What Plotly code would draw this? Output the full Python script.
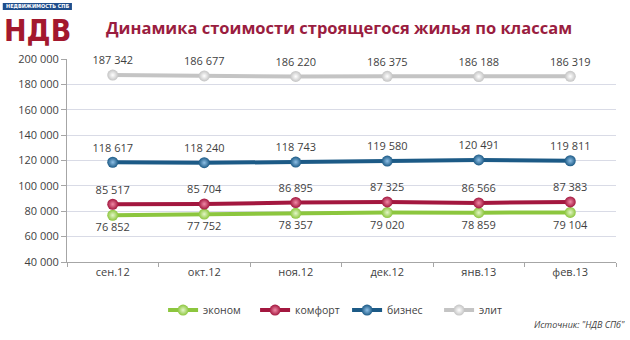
import plotly.graph_objects as go

# Price per square metre of housing under construction, by class (RUB)
months = ["сен.12", "окт.12", "ноя.12", "дек.12", "янв.13", "фев.13"]

econom = [76852, 77752, 78357, 79020, 78859, 79104]
comfort = [85517, 85704, 86895, 87325, 86566, 87383]
business = [118617, 118240, 118743, 119580, 120491, 119811]
elite = [187342, 186677, 186220, 186375, 186188, 186319]

series_names = ["эконом", "комфорт", "бизнес", "элит"]
y_ticks = [40000, 60000, 80000, 100000, 120000, 140000, 160000, 180000, 200000]

styles = [
    # (values, line colour, highlight colour, label position)
    (econom, "#8cc63e", "#e4f6c8", "bottom center"),
    (comfort, "#a3173f", "#f08aa6", "top center"),
    (business, "#1c5a86", "#8fc0e6", "top center"),
    (elite, "#c4c4c4", "#ffffff", "top center"),
]

FONT = "Open Sans"
TEXT_COLOR = "#3f3f3f"

fig = go.Figure()
for name, (vals, col, hi, pos) in zip(series_names, styles):
    fig.add_trace(go.Scatter(
        x=months, y=vals, name=name,
        mode="lines+markers+text",
        line=dict(color=col, width=4),
        marker=dict(size=11, color=col,
                    gradient=dict(type="radial", color=hi),
                    line=dict(width=0)),
        texttemplate="%{y:,d}",
        textposition=pos,
        textfont=dict(family=FONT, size=11, color=TEXT_COLOR),
        cliponaxis=False,
    ))

fig.update_layout(
    width=630, height=340,
    margin=dict(l=67, r=14, t=59, b=78),
    paper_bgcolor="white", plot_bgcolor="white",
    separators=", ",
    showlegend=True,
    legend=dict(
        orientation="h", x=0.175, y=-0.237, xanchor="left", yanchor="middle",
        font=dict(family=FONT, size=10.5, color=TEXT_COLOR),
        entrywidth=47, entrywidthmode="pixels",
        itemwidth=30, bgcolor="rgba(0,0,0,0)",
    ),
    xaxis=dict(
        type="category", tickson="boundaries",
        showline=True, linecolor="#a6a6a6", linewidth=1,
        ticks="outside", ticklen=4, tickcolor="#a6a6a6",
        showgrid=False,
        tickfont=dict(family=FONT, size=11, color=TEXT_COLOR),
        range=[-0.5, 5.5],
    ),
    yaxis=dict(
        range=[40000, 200000], tickvals=y_ticks, tickformat=",d",
        showline=True, linecolor="#a6a6a6", linewidth=1,
        ticks="outside", ticklen=5, tickcolor="#a6a6a6",
        showgrid=True, gridcolor="#d9dbe6", gridwidth=1,
        zeroline=False,
        tickfont=dict(family=FONT, size=11, color=TEXT_COLOR),
    ),
)

# Header: logo and title
fig.add_shape(type="rect", xref="paper", yref="paper",
              x0=-0.117, x1=0.009, y0=1.241, y1=1.276,
              fillcolor="#1f4e8c", line=dict(width=0))
fig.add_annotation(xref="paper", yref="paper", x=-0.054, y=1.259,
                   text="<b>НЕДВИЖИМОСТЬ СПБ</b>", showarrow=False,
                   font=dict(family="DejaVu Sans Condensed", size=5.5, color="white"),
                   xanchor="center", yanchor="middle")
fig.add_annotation(xref="paper", yref="paper", x=-0.054, y=1.14,
                   text="<b>НДВ</b>", showarrow=False,
                   font=dict(family="DejaVu Sans Condensed", size=30, color="#a3182e"),
                   xanchor="center", yanchor="middle")
fig.add_annotation(xref="paper", yref="paper", x=0.068, y=1.155,
                   text="<b>Динамика стоимости строящегося жилья по классам</b>",
                   showarrow=False,
                   font=dict(family=FONT, size=16.5, color="#9a1d40"),
                   xanchor="left", yanchor="middle")

# Source note
fig.add_annotation(xref="paper", yref="paper", x=1.02, y=-0.31,
                   text="<i>Источник: \"НДВ СПб\"</i>", showarrow=False,
                   font=dict(family=FONT, size=9, color=TEXT_COLOR),
                   xanchor="right", yanchor="middle")

fig.write_html("out.html")
